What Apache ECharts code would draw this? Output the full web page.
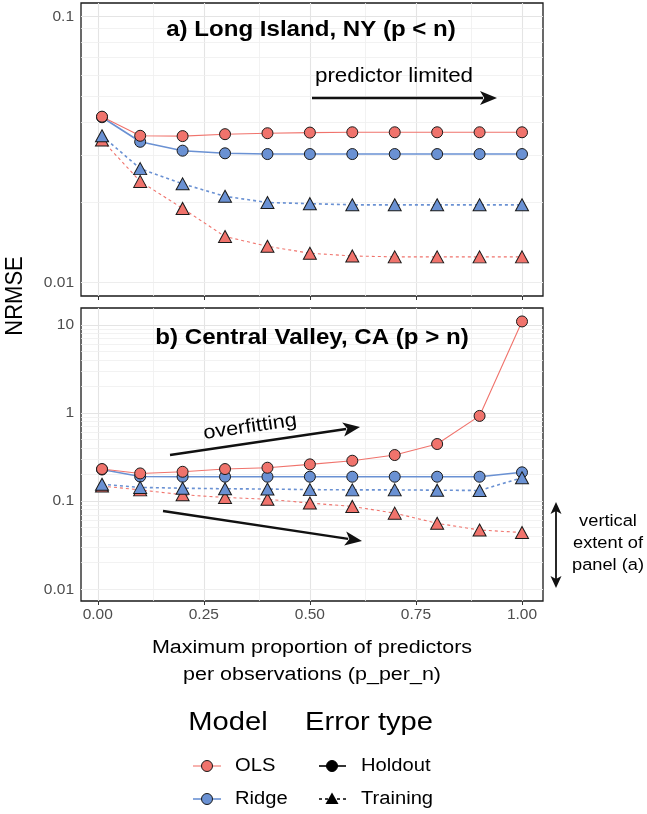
<!DOCTYPE html>
<html>
<head>
<meta charset="utf-8">
<script src="https://cdn.jsdelivr.net/npm/echarts@6/dist/echarts.min.js"></script>
<style>
    html, body { margin: 0; padding: 0; background: #fff; }
    #chart { width: 647px; height: 814px; }
</style>
</head>
<body>
<div id="chart"></div>
<script>
    // x values: max proportion of predictors per observation
    const pPerN = [0.01, 0.1, 0.2, 0.3, 0.4, 0.5, 0.6, 0.7, 0.8, 0.9, 1.0];

    // a) Long Island, NY
    const liOlsHoldout = [0.0420, 0.0356, 0.0355, 0.0361, 0.0364, 0.0366, 0.0367, 0.0367, 0.0367, 0.0367, 0.0367];
    const liRidgeHoldout = [0.0418, 0.0338, 0.0313, 0.0306, 0.0304, 0.0304, 0.0304, 0.0304, 0.0304, 0.0304, 0.0304];
    const liOlsTraining = [0.0343, 0.0240, 0.0190, 0.0149, 0.0137, 0.0129, 0.0126, 0.0125, 0.0125, 0.0125, 0.0125];
    const liRidgeTraining = [0.0356, 0.0268, 0.0235, 0.0211, 0.0200, 0.0198, 0.0196, 0.0196, 0.0196, 0.0196, 0.0196];

    // b) Central Valley, CA
    const cvOlsHoldout = [0.231, 0.206, 0.215, 0.231, 0.239, 0.261, 0.287, 0.333, 0.444, 0.925, 10.9];
    const cvRidgeHoldout = [0.228, 0.190, 0.189, 0.189, 0.189, 0.189, 0.189, 0.189, 0.189, 0.189, 0.212];
    const cvOlsTraining = [0.148, 0.134, 0.118, 0.110, 0.105, 0.095, 0.087, 0.073, 0.056, 0.047, 0.044];
    const cvRidgeTraining = [0.155, 0.143, 0.140, 0.138, 0.137, 0.135, 0.134, 0.134, 0.133, 0.132, 0.184];

    // axis breaks
    const xTicks = [0, 0.25, 0.5, 0.75, 1];
    const xMinor = [0.125, 0.375, 0.625, 0.875];
    const yTicksA = [0.01, 0.1];
    const yMinorA = [0.009, 0.02, 0.03, 0.04, 0.05, 0.06, 0.07, 0.08, 0.09];
    const yTicksB = [0.01, 0.1, 1, 10];
    const yMinorB = [0.008, 0.009, 0.02, 0.03, 0.04, 0.05, 0.06, 0.07, 0.08, 0.09,
        0.2, 0.3, 0.4, 0.5, 0.6, 0.7, 0.8, 0.9, 2, 3, 4, 5, 6, 7, 8, 9];

    const RED = '#F0736C';
    const BLUE = '#6A91D3';
    const FONT = '"Liberation Sans", Arial, sans-serif';
    const SX = 1.12;   // the original figure is a bit wider than tall

    function pairs(vals) {
        return pPerN.map((x, i) => [x, vals[i]]);
    }

    function lineSeries(idx, vals, color, width, dashed) {
        return {
            type: 'line', xAxisIndex: idx, yAxisIndex: idx, data: pairs(vals),
            symbol: 'none', silent: true, z: 3, animation: false,
            lineStyle: {color: color, width: width, type: dashed ? [3, 3] : 'solid'}
        };
    }

    function pointSeries(idx, vals, color, shape) {
        return {
            type: 'scatter', xAxisIndex: idx, yAxisIndex: idx, data: pairs(vals),
            symbol: shape, symbolSize: shape === 'circle' ? 11 : [13, 12],
            silent: true, z: 4, animation: false,
            itemStyle: {color: color, borderColor: '#1a1a1a', borderWidth: 1, opacity: 1}
        };
    }

    function gridSeries(idx, yMajor, yMinor) {
        const major = {color: '#e4e4e4', width: 1.1, type: 'solid'};
        const minor = {color: '#efefef', width: 0.8, type: 'solid'};
        const lines = [];
        xTicks.forEach(v => lines.push({xAxis: v, lineStyle: major}));
        xMinor.forEach(v => lines.push({xAxis: v, lineStyle: minor}));
        yMajor.forEach(v => lines.push({yAxis: v, lineStyle: major}));
        yMinor.forEach(v => lines.push({yAxis: v, lineStyle: minor}));
        return {
            type: 'line', xAxisIndex: idx, yAxisIndex: idx, data: [], silent: true, z: 1,
            markLine: {silent: true, symbol: 'none', z: 1, animation: false, label: {show: false},
                lineStyle: {type: 'solid'}, data: lines}
        };
    }

    function panelSeries(idx, olsH, ridgeH, olsT, ridgeT) {
        return [
            gridSeries(idx, idx === 0 ? yTicksA : yTicksB, idx === 0 ? yMinorA : yMinorB),
            lineSeries(idx, ridgeH, BLUE, 1.6, false),
            lineSeries(idx, olsH, RED, 1.1, false),
            lineSeries(idx, olsT, RED, 1.1, true),
            lineSeries(idx, ridgeT, BLUE, 1.6, true),
            pointSeries(idx, ridgeH, BLUE, 'circle'),
            pointSeries(idx, olsH, RED, 'circle'),
            pointSeries(idx, olsT, RED, 'triangle'),
            pointSeries(idx, ridgeT, BLUE, 'triangle')
        ];
    }

    function xAxis(idx, showLabels) {
        return {
            type: 'value', gridIndex: idx, min: -0.0395, max: 1.0495,
            axisLine: {show: false},
            splitLine: {show: false},
            axisTick: {show: true, length: 4, customValues: xTicks, lineStyle: {color: '#333', width: 1}},
            axisLabel: {
                show: showLabels, customValues: xTicks, margin: 6,
                color: '#4d4d4d', fontSize: 15.5, fontFamily: FONT,
                formatter: v => v.toFixed(2)
            }
        };
    }

    function yAxis(idx, lo, hi, ticks) {
        return {
            type: 'log', logBase: 10, gridIndex: idx, min: lo, max: hi,
            axisLine: {show: false},
            splitLine: {show: false},
            minorSplitLine: {show: false},
            axisTick: {show: true, length: 4, customValues: ticks, lineStyle: {color: '#333', width: 1}},
            axisLabel: {
                customValues: ticks, margin: 7,
                color: '#4d4d4d', fontSize: 15.5, fontFamily: FONT,
                formatter: v => String(v)
            }
        };
    }

    function arrow(x1, y1, x2, y2, w, head, half, both) {
        const ang = Math.atan2(y2 - y1, x2 - x1);
        const tip = (x, y, a) => {
            const c = Math.cos(a), s = Math.sin(a);
            const bx = x - head * c, by = y - head * s;
            return {
                type: 'polygon', silent: true, z: 100,
                shape: {points: [[x, y], [bx - half * s, by + half * c], [bx + head * 0.25 * c, by + head * 0.25 * s], [bx + half * s, by - half * c]]},
                style: {fill: '#111'}
            };
        };
        const els = [{
            type: 'line', silent: true, z: 100,
            shape: {x1: x1, y1: y1, x2: x2 - (head - 3) * Math.cos(ang), y2: y2 - (head - 3) * Math.sin(ang)},
            style: {stroke: '#111', lineWidth: w}
        }, tip(x2, y2, ang)];
        if (both) {
            els[0].shape.x1 = x1 + (head - 3) * Math.cos(ang);
            els[0].shape.y1 = y1 + (head - 3) * Math.sin(ang);
            els.push(tip(x1, y1, ang + Math.PI));
        }
        return els;
    }

    function text(str, x, y, size, extra, props) {
        return Object.assign({
            type: 'text', silent: true, x: x, y: y, z: 100, scaleX: SX,
            style: Object.assign({
                text: str, fill: '#000', fontSize: size, fontFamily: FONT,
                align: 'center', verticalAlign: 'middle'
            }, extra || {})
        }, props || {});
    }

    const graphics = [].concat(
        [
            text('a) Long Island, NY (p < n)', 311, 30, 21.5, {fontWeight: 'bold'}),
            text('predictor limited', 394, 76, 20),
            text('b) Central Valley, CA (p > n)', 312, 338, 21.5, {fontWeight: 'bold'}),
            text('overfitting', 250, 427, 19.4, null, {rotation: 8.3 * Math.PI / 180}),
            text('vertical', 608, 522, 16.3),
            text('extent of', 608, 544, 16.3),
            text('panel (a)', 608, 566, 16.3),
            text('NRMSE', 15, 296, 22, null, {rotation: Math.PI / 2, scaleX: 1, scaleY: SX}),
            text('Maximum proportion of predictors', 312, 648, 19.2),
            text('per observations (p_per_n)', 312, 675, 19.2),
            text('Model', 228, 723, 26),
            text('Error type', 369, 723, 26),
            text('OLS', 235, 766, 18, {align: 'left'}),
            text('Ridge', 235, 799, 18, {align: 'left'}),
            text('Holdout', 361, 766, 18, {align: 'left'}),
            text('Training', 361, 799, 18, {align: 'left'}),
            // legend keys
            {type: 'line', silent: true, shape: {x1: 193, y1: 766, x2: 221, y2: 766}, style: {stroke: RED, lineWidth: 1.1}},
            {type: 'circle', silent: true, shape: {cx: 207, cy: 766, r: 5.5}, style: {fill: RED, stroke: '#1a1a1a', lineWidth: 1}},
            {type: 'line', silent: true, shape: {x1: 193, y1: 799, x2: 221, y2: 799}, style: {stroke: BLUE, lineWidth: 1.6}},
            {type: 'circle', silent: true, shape: {cx: 207, cy: 799, r: 5.5}, style: {fill: BLUE, stroke: '#1a1a1a', lineWidth: 1}},
            {type: 'line', silent: true, shape: {x1: 319, y1: 766, x2: 346, y2: 766}, style: {stroke: '#000', lineWidth: 1.6}},
            {type: 'circle', silent: true, shape: {cx: 332, cy: 766, r: 5.5}, style: {fill: '#000', stroke: '#000', lineWidth: 1}},
            {type: 'line', silent: true, shape: {x1: 319, y1: 799, x2: 346, y2: 799}, style: {stroke: '#000', lineWidth: 1.6, lineDash: [3, 3]}},
            {type: 'polygon', silent: true, shape: {points: [[332, 792.5], [338.5, 804], [325.5, 804]]}, style: {fill: '#000'}}
        ],
        arrow(312, 98, 497, 98, 2.6, 17, 7, false),
        arrow(170, 455, 360, 427, 2.4, 17, 7, false),
        arrow(163, 511, 362, 541, 2.4, 17, 7, false),
        arrow(556, 502, 556, 588, 1.8, 12, 5.5, true)
    );

    const myChart = echarts.init(document.getElementById('chart'), null, {renderer: 'canvas'});
    const option = {
        backgroundColor: '#fff',
        animation: false,
        grid: [
            {left: 81, top: 3, width: 462, height: 293, show: true, backgroundColor: '#fff', borderColor: '#1a1a1a', borderWidth: 1.3},
            {left: 81, top: 308, width: 462, height: 293, show: true, backgroundColor: '#fff', borderColor: '#1a1a1a', borderWidth: 1.3}
        ],
        xAxis: [xAxis(0, false), xAxis(1, true)],
        yAxis: [
            yAxis(0, Math.pow(10, -2.05), Math.pow(10, -0.95), yTicksA),
            yAxis(1, Math.pow(10, -2.133), Math.pow(10, 1.19), yTicksB)
        ],
        series: [].concat(
            panelSeries(0, liOlsHoldout, liRidgeHoldout, liOlsTraining, liRidgeTraining),
            panelSeries(1, cvOlsHoldout, cvRidgeHoldout, cvOlsTraining, cvRidgeTraining)
        ),
        graphic: graphics
    };
    option && myChart.setOption(option);
</script>
</body>
</html>
